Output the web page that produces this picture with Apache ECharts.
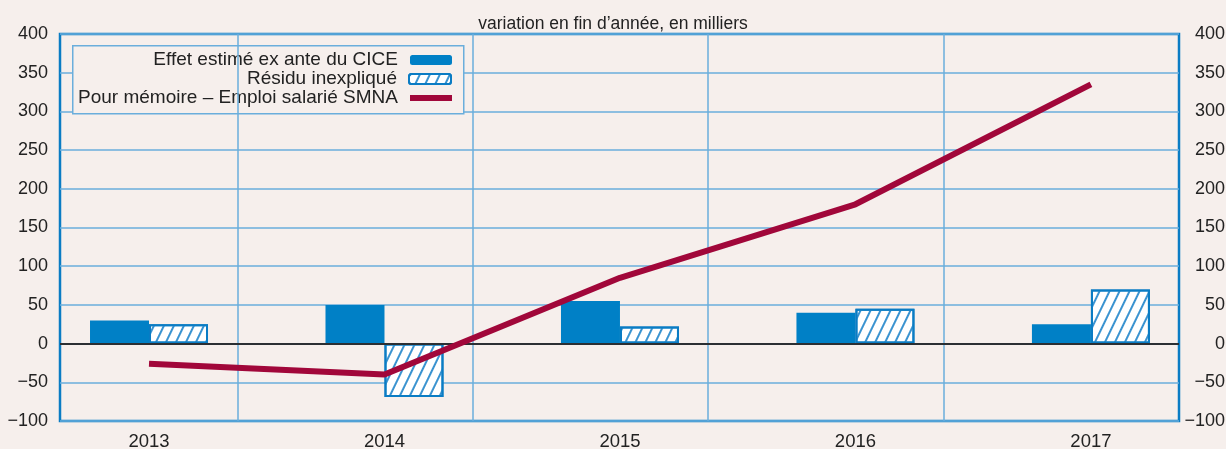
<!DOCTYPE html>
<html>
<head>
<meta charset="utf-8">
<script src="https://cdn.jsdelivr.net/npm/echarts@6/dist/echarts.min.js"></script>
<style>
  html, body { margin: 0; padding: 0; background: #f6efec; }
  #chart { width: 1226px; height: 449px; }
</style>
</head>
<body>
<div id="chart"></div>
<script>
// donnees (milliers)
var years = ['2013', '2014', '2015', '2016', '2017'];
var cice = [30, 50, 55, 40, 25];
var residu = [25, -69, 22, 45, 70];
var emploi = [-26, -40, 85, 180, 335];
var yTicks = { min: -100, max: 400, step: 50 };
var separators = [0.5, 1.5, 2.5, 3.5];

var BLUE = '#0080c6';
var FRAME = '#0a7cc4';
var GRID = '#6aaedc';
var BG = '#f6efec';
var FONT = 'Liberation Sans';

function pairs(arr) {
    return arr.map(function (v, i) { return [i, v]; });
}

var chart = echarts.init(document.getElementById('chart'));

var legendBase = {
    orient: 'vertical',
    align: 'right',
    right: 774,
    padding: 0,
    itemWidth: 42,
    itemHeight: 10,
    textStyle: { fontFamily: FONT, fontSize: 19, color: '#222', lineHeight: 20, padding: [0, 7, 0, 0] },
    selectedMode: false
};

chart.setOption({
    backgroundColor: BG,
    animation: false,
    title: {
        text: 'variation en fin d\u2019année, en milliers',
        left: 'center',
        top: 15,
        padding: 0,
        textStyle: { fontFamily: FONT, fontSize: 17.5, fontWeight: 'normal', color: '#222' }
    },
    legend: [
        Object.assign({}, legendBase, { top: 50, data: ['Effet estimé ex ante du CICE'] }),
        Object.assign({}, legendBase, { top: 69, data: ['Résidu inexpliqué'] }),
        Object.assign({}, legendBase, { top: 88, itemHeight: 6, data: [{ name: 'Pour mémoire \u2013 Emploi salarié SMNA', icon: 'rect' }] })
    ],
    graphic: [{
        type: 'rect',
        left: 72, top: 45, z: 3,
        shape: { width: 391, height: 68 },
        style: { fill: BG, stroke: GRID, lineWidth: 1.5 }
    }],
    grid: {
        left: 60, right: 47, top: 34, bottom: 28,
        outerBoundsMode: 'none',
        containLabel: false,
        show: true, borderColor: FRAME, borderWidth: 2.5, backgroundColor: 'transparent'
    },
    xAxis: {
        type: 'value',
        min: -0.378,
        max: 4.374,
        axisLine: { show: false },
        axisTick: { show: false },
        splitLine: { show: false },
        axisLabel: {
            customValues: [0, 1, 2, 3, 4],
            formatter: function (v) { return years[Math.round(v)]; },
            fontFamily: FONT, fontSize: 18.5, color: '#222', margin: 11
        }
    },
    yAxis: [{
        type: 'value',
        min: yTicks.min, max: yTicks.max, interval: yTicks.step,
        axisLine: { show: false },
        axisTick: { show: false },
        splitLine: { lineStyle: { color: GRID, width: 1.5 } },
        axisLabel: {
            fontFamily: FONT, fontSize: 18, color: '#222', margin: 12,
            formatter: function (v) { return String(v).replace('-', '\u2212'); }
        }
    }, {
        type: 'value',
        position: 'right',
        min: yTicks.min, max: yTicks.max, interval: yTicks.step,
        axisLine: { show: false },
        axisTick: { show: false },
        splitLine: { show: false },
        axisLabel: {
            fontFamily: FONT, fontSize: 18, color: '#222', margin: 46, align: 'right',
            formatter: function (v) { return String(v).replace('-', '\u2212'); }
        }
    }],
    series: [{
        name: 'Effet estimé ex ante du CICE',
        type: 'bar',
        barWidth: 59,
        barGap: '0%',
        itemStyle: { color: BLUE },
        data: pairs(cice),
        markLine: {
            silent: true, symbol: 'none', label: { show: false },
            lineStyle: { color: GRID, width: 1.5, type: 'solid' },
            data: separators.map(function (x) { return { xAxis: x }; })
        }
    }, {
        name: 'Résidu inexpliqué',
        type: 'bar',
        barWidth: 59,
        barGap: '0%',
        itemStyle: {
            color: '#ffffff',
            borderColor: FRAME,
            borderWidth: 2,
            decal: {
                symbol: 'rect',
                symbolSize: 1,
                dashArrayX: [[1, 0]],
                dashArrayY: [1.2, 7],
                rotation: -Math.PI / 2.8,
                color: '#3a93d0'
            }
        },
        data: pairs(residu),
        markLine: {
            silent: true, symbol: 'none', label: { show: false },
            lineStyle: { color: '#2b2f33', width: 2, type: 'solid' },
            data: [{ yAxis: 0 }]
        }
    }, {
        name: 'Pour mémoire \u2013 Emploi salarié SMNA',
        type: 'line',
        symbol: 'none',
        z: 5,
        itemStyle: { color: '#a1073a' },
        lineStyle: { color: '#a1073a', width: 6 },
        data: pairs(emploi)
    }]
});
</script>
</body>
</html>
